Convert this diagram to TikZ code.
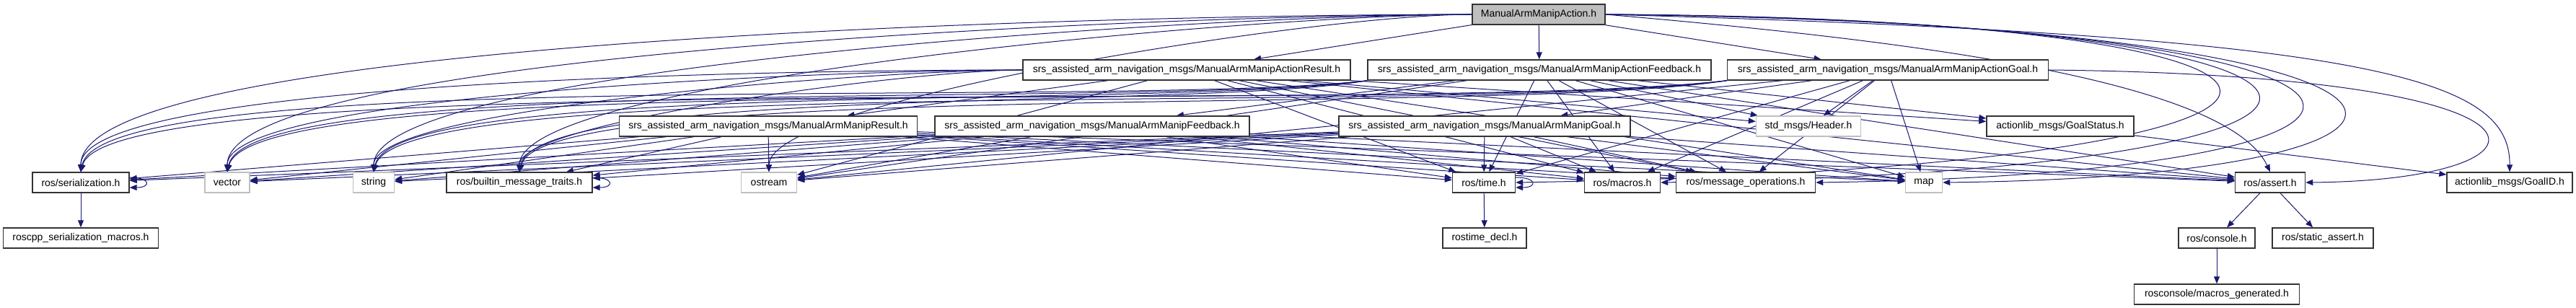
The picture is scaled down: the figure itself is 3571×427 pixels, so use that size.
\documentclass[tikz,border=0pt]{standalone}
\usepackage{fontspec}
\setmainfont{Liberation Sans}
\usetikzlibrary{arrows.meta}

\definecolor{edgeblue}{RGB}{25,25,112}
\definecolor{boxgray}{RGB}{191,191,191}

\pgfdeclarelayer{edges}
\pgfsetlayers{edges,main}

\tikzset{
  file/.style={draw=black!80, line width=1.4pt, fill=white, minimum height=28pt, inner sep=0pt, font=\fontsize{14}{17}\selectfont},
  ext/.style={file, draw=boxgray},
  dep/.style={draw=edgeblue, line width=1pt, -{Triangle[length=10pt,width=8pt]}},
  selfloop/.style={out=0, in=0, looseness=5.5},
}

\begin{document}
\begin{tikzpicture}[x=1pt,y=1pt]
\useasboundingbox (0,0) rectangle (3571,-427);

% top
\node[file, fill=boxgray, minimum width=184pt] (act) at (2133,-20) {ManualArmManipAction.h};

% action messages
\node[file, minimum width=454pt] (ares) at (1645,-97) {srs\_assisted\_arm\_navigation\_msgs/ManualArmManipActionResult.h};
\node[file, minimum width=476pt] (afb) at (2134,-97) {srs\_assisted\_arm\_navigation\_msgs/ManualArmManipActionFeedback.h};
\node[file, minimum width=445pt] (agoal) at (2617,-97) {srs\_assisted\_arm\_navigation\_msgs/ManualArmManipActionGoal.h};

% messages
\node[file, minimum width=413pt] (res) at (1065,-175) {srs\_assisted\_arm\_navigation\_msgs/ManualArmManipResult.h};
\node[file, minimum width=436pt] (fb) at (1514,-175) {srs\_assisted\_arm\_navigation\_msgs/ManualArmManipFeedback.h};
\node[file, minimum width=404pt] (goal) at (2058,-175) {srs\_assisted\_arm\_navigation\_msgs/ManualArmManipGoal.h};
\node[ext, minimum width=145pt] (header) at (2507,-175) {std\_msgs/Header.h};
\node[file, minimum width=204pt] (gstat) at (2856,-175) {actionlib\_msgs/GoalStatus.h};

% ros headers
\node[file, minimum width=134pt] (ser) at (112,-253) {ros/serialization.h};
\node[ext, minimum width=62pt] (vec) at (315,-253) {vector};
\node[ext, minimum width=57pt] (str) at (518,-253) {string};
\node[file, minimum width=202pt] (bmt) at (720,-253) {ros/builtin\_message\_traits.h};
\node[ext, minimum width=77pt] (ost) at (1066,-253) {ostream};
\node[file, minimum width=87pt] (time) at (2057,-253) {ros/time.h};
\node[file, minimum width=105pt] (macros) at (2249,-253) {ros/macros.h};
\node[file, minimum width=193pt] (msgop) at (2420,-253) {ros/message\_operations.h};
\node[ext, minimum width=51pt] (map) at (2667,-253) {map};
\node[file, minimum width=97pt] (assert) at (3147,-253) {ros/assert.h};
\node[file, minimum width=174pt] (goalid) at (3479,-253) {actionlib\_msgs/GoalID.h};

% lower rows
\node[file, minimum width=215pt] (sermac) at (112,-330) {roscpp\_serialization\_macros.h};
\node[file, minimum width=116pt] (rtdecl) at (2058,-330) {rostime\_decl.h};
\node[file, minimum width=106pt] (console) at (3073,-330) {ros/console.h};
\node[file, minimum width=140pt] (sassert) at (3220,-330) {ros/static\_assert.h};
\node[file, minimum width=229pt] (macgen) at (3073,-408) {rosconsole/macros\_generated.h};

\begin{pgfonlayer}{edges}
% ManualArmManipAction.h
\draw[dep] (act) -- (ares);
\draw[dep] (act) -- (afb);
\draw[dep] (act) -- (agoal);
\draw[dep] (act.west) .. controls +(-420,0) and +(0,190) .. (ser.north);
\draw[dep] (act.west) .. controls +(-375,0) and +(0,170) .. (vec.north);
\draw[dep] (act.west) .. controls +(-330,0) and +(0,150) .. (str.north);
\draw[dep] (act.west) .. controls +(-290,0) and +(0,130) .. (bmt.north);
\draw[dep] (act.west) .. controls +(-215,0) and +(0,100) .. (ost.north);
\draw[dep] (act.east) .. controls (3380,-25) and (3380,-232) .. (time.east);
\draw[dep] (act.east) .. controls (3420,-28) and (3420,-236) .. (macros.east);
\draw[dep] (act.east) .. controls (3460,-31) and (3460,-240) .. (msgop.east);
\draw[dep] (act.east) .. controls (3500,-34) and (3500,-244) .. (map.east);
\draw[dep] (act.east) .. controls +(370,-32) and +(-63,134) .. (assert.north);
\draw[dep] (act.east) .. controls (3300,-50) and (3480,-110) .. (goalid.north);

% ManualArmManipActionResult.h
\draw[dep] (ares) -- (res);
\draw[dep] (ares) -- (header);
\draw[dep] (ares) -- (gstat);
\draw[dep] (ares.west) .. controls +(-283,0) and +(0,130) .. (ser.north);
\draw[dep] (ares.west) .. controls +(-240,0) and +(0,110) .. (vec.north);
\draw[dep] (ares.west) .. controls +(-195,0) and +(0,90) .. (str.north);
\draw[dep] (ares.west) .. controls +(-150,0) and +(0,70) .. (bmt.north);
\draw[dep] (ares) -- (ost);
\draw[dep] (ares) -- (time);
\draw[dep] (ares) -- (macros);
\draw[dep] (ares) -- (msgop);
\draw[dep] (ares) -- (map);
\draw[dep] (ares) -- (assert);

% ManualArmManipActionFeedback.h
\draw[dep] (afb) -- (fb);
\draw[dep] (afb) -- (header);
\draw[dep] (afb) -- (gstat);
\draw[dep] (afb.south west) .. controls +(-345,-40) and +(30,150) .. (ser.north);
\draw[dep] (afb.south west) .. controls +(-306,-40) and +(30,140) .. (vec.north);
\draw[dep] (afb.south west) .. controls +(-267,-40) and +(28,130) .. (str.north);
\draw[dep] (afb.south west) .. controls +(-228,-40) and +(24,120) .. (bmt.north);
\draw[dep] (afb) -- (ost);
\draw[dep] (afb) -- (time);
\draw[dep] (afb) -- (macros);
\draw[dep] (afb) -- (msgop);
\draw[dep] (afb) -- (map);
\draw[dep] (afb) -- (assert);

% ManualArmManipActionGoal.h
\draw[dep] (agoal) -- (goal);
\draw[dep] (agoal) -- (header);
\draw[dep] (agoal.south west) .. controls +(-440,-50) and +(40,150) .. (ser.north);
\draw[dep] (agoal.south west) .. controls +(-400,-50) and +(40,150) .. (vec.north);
\draw[dep] (agoal.south west) .. controls +(-360,-50) and +(38,140) .. (str.north);
\draw[dep] (agoal.south west) .. controls +(-320,-50) and +(34,130) .. (bmt.north);
\draw[dep] (agoal) -- (ost);
\draw[dep] (agoal) -- (time);
\draw[dep] (agoal) -- (macros);
\draw[dep] (agoal) -- (msgop);
\draw[dep] (agoal) -- (map);
\draw[dep] (agoal.east) .. controls (3600,-105) and (3560,-250) .. (assert.east);

% ManualArmManipResult.h
\draw[dep] (res) -- (ser);
\draw[dep] (res) -- (vec);
\draw[dep] (res) -- (str);
\draw[dep] (res) -- (bmt);
\draw[dep] (res) -- (ost);
\draw[dep] (res) -- (time);
\draw[dep] (res) -- (macros);
\draw[dep] (res) -- (msgop);
\draw[dep] (res) -- (map);
\draw[dep] (res) -- (assert);

% ManualArmManipFeedback.h
\draw[dep] (fb) -- (ser);
\draw[dep] (fb) -- (vec);
\draw[dep] (fb) -- (str);
\draw[dep] (fb) -- (bmt);
\draw[dep] (fb) -- (ost);
\draw[dep] (fb) -- (time);
\draw[dep] (fb) -- (macros);
\draw[dep] (fb) -- (msgop);
\draw[dep] (fb) -- (map);
\draw[dep] (fb) -- (assert);

% ManualArmManipGoal.h
\draw[dep] (goal) -- (ser);
\draw[dep] (goal) -- (vec);
\draw[dep] (goal) -- (str);
\draw[dep] (goal) -- (bmt);
\draw[dep] (goal) -- (ost);
\draw[dep] (goal) -- (time);
\draw[dep] (goal) -- (macros);
\draw[dep] (goal) -- (msgop);
\draw[dep] (goal) -- (map);
\draw[dep] (goal) -- (assert);

% the rest
\draw[dep] (gstat) -- (goalid);
\draw[dep] ([yshift=7pt]ser.east) to[selfloop] ([yshift=-7pt]ser.east);
\draw[dep] ([yshift=7pt]bmt.east) to[selfloop] ([yshift=-7pt]bmt.east);
\draw[dep] ([yshift=7pt]time.east) to[selfloop] ([yshift=-7pt]time.east);
\draw[dep] (ser) -- (sermac);
\draw[dep] (time) -- (rtdecl);
\draw[dep] (assert) -- (console);
\draw[dep] (assert) -- (sassert);
\draw[dep] (console) -- (macgen);
\end{pgfonlayer}
\end{tikzpicture}
\end{document}
